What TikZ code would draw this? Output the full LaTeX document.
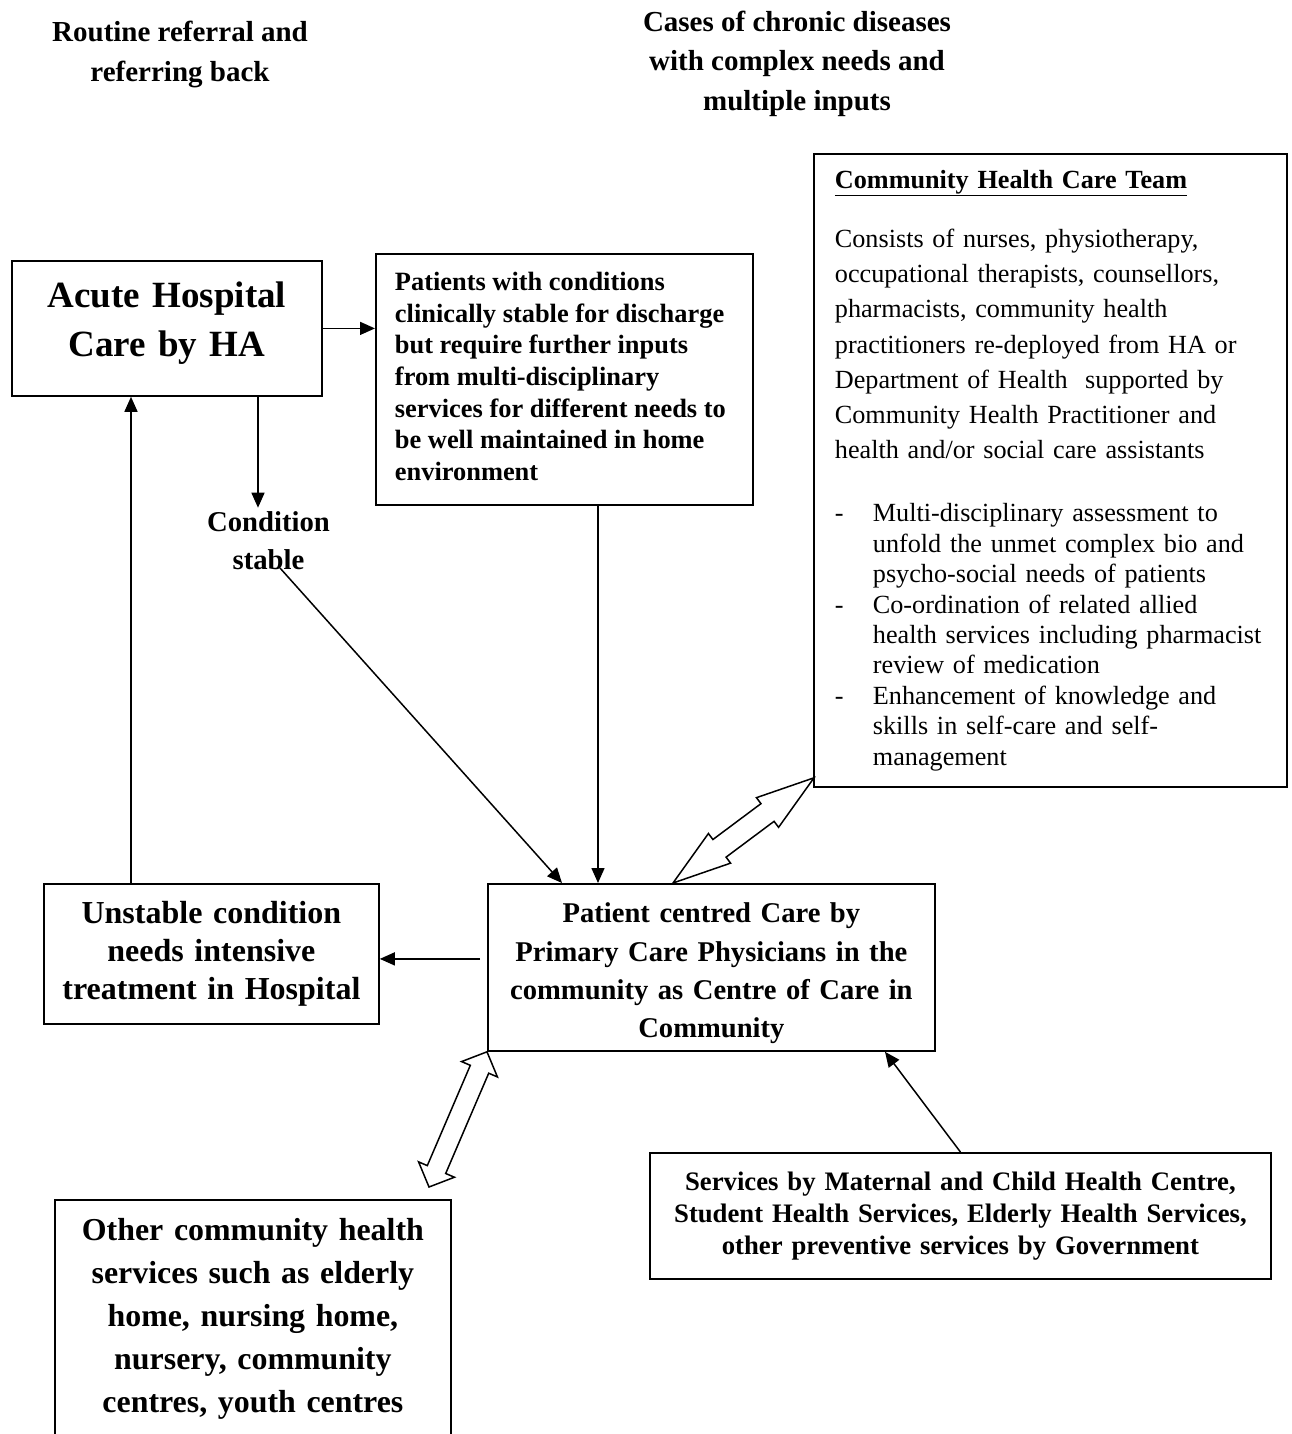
\documentclass[tikz,border=0pt]{standalone}
\usepackage{fontspec}
\setmainfont{Liberation Serif}
\usetikzlibrary{calc,arrows.meta}
\tikzset{
  box/.style={draw, line width=1.8pt, anchor=north west, inner ysep=0pt, inner xsep=0pt},
  arr/.style={line width=1.5pt, -{Triangle[length=15pt,width=13pt]}},
  blockarrow/.style={draw, line width=1.5pt, fill=white, line join=miter},
  titletext/.style={font={\fontsize{29}{39.5}\selectfont\bfseries}, align=center, inner sep=0pt},
}
\newcommand{\dblarrow}[5]{%
  \draw[blockarrow] (#1)
    -- ($(#1)!#3!(#2)!#4!90:(#2)$)
    -- ($(#1)!#3!(#2)!#5!90:(#2)$)
    -- ($(#2)!#3!(#1)!#5!-90:(#1)$)
    -- ($(#2)!#3!(#1)!#4!-90:(#1)$)
    -- (#2)
    -- ($(#2)!#3!(#1)!#4!90:(#1)$)
    -- ($(#2)!#3!(#1)!#5!90:(#1)$)
    -- ($(#1)!#3!(#2)!#5!-90:(#2)$)
    -- ($(#1)!#3!(#2)!#4!-90:(#2)$)
    -- cycle;}
\begin{document}
\begin{tikzpicture}[x=1pt,y=-1pt]
\useasboundingbox (0,0) rectangle (1291,1434);

% titles
\node[titletext] (t1) at (180,54.5) {Routine referral and\\referring back};
\node[titletext] (t2) at (797,63.5) {Cases of chronic diseases\\with complex needs and\\multiple inputs};

% boxes
\node[box, minimum width=310, minimum height=135, text width=300, align=center,
      font={\fontsize{37}{49}\selectfont\bfseries}] (acute) at (11,260)
      {Acute Hospital\\Care by HA\rule[-18pt]{0pt}{18pt}};

\node[box, minimum width=377, minimum height=251, align=left,
      font={\fontsize{26.4}{31.7}\selectfont\bfseries}] (pat) at (375,253)
      {Patients with conditions\\
       clinically stable for discharge\\
       but require further inputs\\
       from multi-disciplinary\\
       services for different needs to\rule{8pt}{0pt}\\
       be well maintained in home\\
       environment\rule[-6pt]{0pt}{6pt}};

\node[box, minimum width=473, minimum height=633, inner xsep=21, text width=431, align=left,
      font={\fontsize{26.2}{30.4}\selectfont}] (chct) at (813,153)
      {\textbf{\underline{Community Health Care Team}}\\[28.6pt]
       Consists of nurses, physiotherapy,\\[4.9pt]
       occupational therapists, counsellors,\\[4.9pt]
       pharmacists, community health\\[4.9pt]
       practitioners re-deployed from HA or\\[4.9pt]
       Department of Health\ \ supported by\\[4.9pt]
       Community Health Practitioner and\\[4.9pt]
       health and/or social care assistants\\[32.6pt]
       \makebox[38pt][l]{-}Multi-disciplinary assessment to\\
       \hspace*{38pt}unfold the unmet complex bio and\\
       \hspace*{38pt}psycho-social needs of patients\\
       \makebox[38pt][l]{-}Co-ordination of related allied\\
       \hspace*{38pt}health services including pharmacist\\
       \hspace*{38pt}review of medication\\
       \makebox[38pt][l]{-}Enhancement of knowledge and\\
       \hspace*{38pt}skills in self-care and self-\\
       \hspace*{38pt}management};

\node[box, minimum width=335, minimum height=140, text width=330, align=center,
      font={\fontsize{32}{38}\selectfont\bfseries}] (unst) at (43,883)
      {Unstable condition\\needs intensive\\treatment in Hospital};

\node[box, minimum width=447, minimum height=167, text width=440, align=center,
      font={\fontsize{28.6}{38.3}\selectfont\bfseries}] (pcc) at (487,883)
      {\rule{0pt}{32pt}Patient centred Care by\\Primary Care Physicians in the\\community as Centre of Care in\\Community};

\node[box, minimum width=621, minimum height=126, text width=615, align=center,
      font={\fontsize{26.7}{32}\selectfont\bfseries}] (serv) at (649,1152)
      {Services by Maternal and Child Health Centre,\\Student Health Services, Elderly Health Services,\\other preventive services by Government};

\node[box, minimum width=396, minimum height=281, text width=390, align=center,
      font={\fontsize{31.9}{43}\selectfont\bfseries}] (other) at (54,1199)
      {Other community health\\services such as elderly\\home, nursing home,\\nursery, community\\centres, youth centres\rule[-50pt]{0pt}{50pt}};

\node[font={\fontsize{28.7}{38}\selectfont\bfseries}, align=center, inner xsep=0pt, inner ysep=4pt] (cond) at (268.5,541) {Condition\\stable};

% connectors
\draw[arr] (acute.east) -- (acute.east -| pat.west);
\coordinate (c1) at ($(acute.south west)+(247,0)$);
\draw[arr] (c1) -- (c1 |- cond.north);
\coordinate (d1) at (280,568);
\draw[arr] (d1) -- ($(pcc.north west)+(75,0)$);
\coordinate (p1) at ($(pat.south west)+(223,0)$);
\draw[arr] (p1) -- (p1 |- pcc.north);
\coordinate (u1) at ($(unst.north west)+(88,0)$);
\draw[arr] (u1) -- (u1 |- acute.south);
\coordinate (q1) at ($(pcc.west)+(-7,-8.5)$);
\draw[arr] (q1) -- (q1 -| unst.east);
\draw[arr] (serv.north) -- ($(pcc.south west)+(398,0)$);

% block double arrows
\coordinate (b1a) at ($(pcc.north west)+(186,0)$);
\coordinate (b1b) at ($(chct.south west)+(1,-10)$);
\dblarrow{b1a}{b1b}{58pt}{18.5pt}{11pt}
\coordinate (b2a) at (pcc.south west);
\coordinate (b2b) at ($(other.north west)+(375,-12)$);
\dblarrow{b2a}{b2b}{19pt}{19.5pt}{10pt}
\end{tikzpicture}
\end{document}
